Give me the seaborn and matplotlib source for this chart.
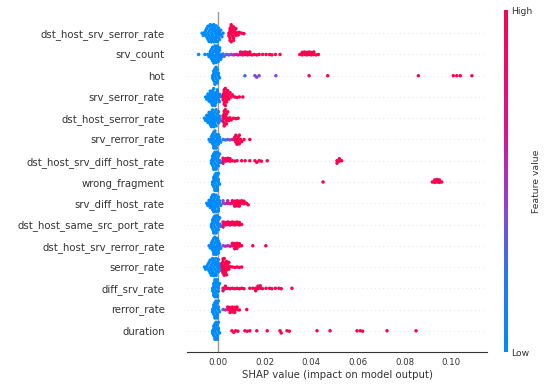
# SHAP summary (beeswarm) plot recreated with seaborn
import warnings
import numpy as np
import pandas as pd
import matplotlib
matplotlib.use("Agg")
import matplotlib.pyplot as plt
import seaborn as sns
from matplotlib.colors import LinearSegmentedColormap, Normalize
from matplotlib.cm import ScalarMappable

warnings.filterwarnings("ignore")

# ==========================================
# DATA  (shap value, number of points, feature value 0..1)
# ==========================================

features = [
    "dst_host_srv_serror_rate", "srv_count", "hot", "srv_serror_rate",
    "dst_host_serror_rate", "srv_rerror_rate", "dst_host_srv_diff_host_rate",
    "wrong_fragment", "srv_diff_host_rate", "dst_host_same_src_port_rate",
    "dst_host_srv_rerror_rate", "serror_rate", "diff_srv_rate",
    "rerror_rate", "duration",
]

dst_host_srv_serror_rate = [
    (-0.007, 1, 0.0), (-0.0065, 1, 0.0), (-0.006, 1, 0.0), (-0.0055, 2, 0.0),
    (-0.005, 2, 0.0), (-0.0045, 3, 0.0), (-0.004, 3, 0.0), (-0.0035, 4, 0.0),
    (-0.003, 4, 0.0), (-0.0025, 4, 0.0), (-0.002, 4, 0.0), (-0.0015, 4, 0.0),
    (-0.001, 4, 0.0), (-0.0005, 3, 0.0), (0.000, 3, 0.05), (0.0005, 2, 0.05),
    (0.001, 2, 0.05), (0.0015, 1, 0.1), (0.002, 1, 0.1),
    (0.0045, 2, 1.0), (0.005, 4, 1.0), (0.0055, 4, 1.0), (0.006, 3, 1.0),
    (0.0065, 3, 1.0), (0.007, 2, 1.0), (0.0075, 2, 1.0), (0.008, 1, 1.0),
    (0.0085, 1, 1.0), (0.009, 1, 1.0), (0.010, 1, 1.0), (0.011, 1, 1.0),
]
srv_count = [
    (-0.0085, 1, 0.0), (-0.0058, 1, 0.0), (-0.0045, 1, 0.0), (-0.004, 1, 0.0),
    (-0.0035, 2, 0.0), (-0.003, 3, 0.0), (-0.0025, 3, 0.0), (-0.002, 4, 0.0),
    (-0.0015, 4, 0.0), (-0.001, 4, 0.0), (-0.0005, 4, 0.0), (0.000, 3, 0.0),
    (0.0005, 3, 0.05), (0.001, 2, 0.05), (0.0015, 1, 0.1), (0.002, 1, 0.1),
    (0.0025, 1, 0.3), (0.0035, 1, 0.35), (0.0045, 1, 0.4), (0.0055, 1, 0.45),
    (0.0065, 1, 0.55), (0.0075, 1, 0.6), (0.0085, 1, 0.7),
    (0.0095, 2, 0.85), (0.0105, 2, 0.9), (0.0115, 2, 0.95), (0.0125, 2, 1.0),
    (0.0135, 2, 1.0), (0.0145, 1, 1.0), (0.0155, 1, 1.0), (0.0165, 1, 1.0),
    (0.0175, 1, 1.0), (0.019, 1, 1.0), (0.0205, 1, 1.0), (0.022, 1, 1.0),
    (0.023, 1, 1.0), (0.0245, 1, 1.0), (0.0265, 1, 1.0),
    (0.035, 1, 1.0), (0.036, 2, 1.0), (0.037, 2, 1.0), (0.038, 2, 1.0),
    (0.039, 2, 1.0), (0.040, 2, 1.0), (0.041, 2, 1.0), (0.042, 1, 1.0),
    (0.043, 1, 1.0),
]
hot = [
    (-0.0025, 2, 0.0), (-0.002, 3, 0.0), (-0.0015, 4, 0.0), (-0.001, 4, 0.0),
    (-0.0005, 3, 0.0), (0.000, 2, 0.0), (0.0005, 1, 0.0),
    (0.0114, 1, 0.25), (0.0157, 1, 0.4), (0.0165, 1, 0.4), (0.0175, 1, 0.4),
    (0.0247, 1, 0.45), (0.039, 1, 0.9), (0.047, 1, 0.95), (0.086, 1, 1.0),
    (0.101, 1, 1.0), (0.1025, 1, 1.0), (0.104, 1, 1.0), (0.109, 1, 1.0),
]
srv_serror_rate = [
    (-0.0055, 1, 0.0), (-0.005, 1, 0.0), (-0.0045, 2, 0.0), (-0.004, 2, 0.0),
    (-0.0035, 3, 0.0), (-0.003, 3, 0.0), (-0.0025, 4, 0.0), (-0.002, 4, 0.0),
    (-0.0015, 4, 0.0), (-0.001, 3, 0.0), (-0.0005, 3, 0.0), (0.000, 2, 0.05),
    (0.0005, 2, 0.05), (0.001, 1, 0.1),
    (0.002, 3, 1.0), (0.0025, 4, 1.0), (0.003, 4, 1.0), (0.0035, 3, 1.0),
    (0.004, 2, 1.0), (0.0045, 2, 1.0), (0.005, 1, 1.0), (0.0055, 1, 1.0),
    (0.006, 1, 1.0), (0.007, 1, 1.0), (0.008, 1, 1.0), (0.009, 1, 1.0),
    (0.0105, 1, 1.0),
]
dst_host_serror_rate = [
    (-0.006, 1, 0.0), (-0.0055, 1, 0.0), (-0.005, 2, 0.0), (-0.0045, 2, 0.0),
    (-0.004, 3, 0.0), (-0.0035, 3, 0.0), (-0.003, 4, 0.0), (-0.0025, 4, 0.0),
    (-0.002, 4, 0.0), (-0.0015, 4, 0.0), (-0.001, 3, 0.0), (-0.0005, 3, 0.0),
    (0.000, 2, 0.05), (0.0005, 2, 0.05), (0.001, 1, 0.1),
    (0.002, 3, 1.0), (0.0025, 4, 1.0), (0.003, 3, 1.0), (0.0035, 3, 1.0),
    (0.004, 2, 1.0), (0.0045, 1, 1.0), (0.005, 1, 1.0), (0.0055, 1, 1.0),
    (0.0065, 1, 1.0), (0.0075, 1, 1.0), (0.0085, 1, 1.0),
]
srv_rerror_rate = [
    (-0.004, 1, 0.0), (-0.0035, 1, 0.0), (-0.003, 2, 0.0), (-0.0025, 3, 0.0),
    (-0.002, 4, 0.0), (-0.0015, 4, 0.0), (-0.001, 4, 0.0), (-0.0005, 3, 0.0),
    (0.000, 2, 0.0), (0.0005, 2, 0.05), (0.001, 1, 0.05),
    (0.002, 1, 0.2), (0.003, 1, 0.25), (0.004, 1, 0.3), (0.005, 1, 0.4),
    (0.006, 1, 0.6),
    (0.007, 2, 0.9), (0.0075, 2, 1.0), (0.008, 2, 1.0), (0.0085, 2, 1.0),
    (0.009, 2, 1.0), (0.0095, 1, 1.0), (0.010, 1, 1.0), (0.011, 1, 1.0),
    (0.0135, 1, 1.0),
]
dst_host_srv_diff_host_rate = [
    (-0.003, 2, 0.0), (-0.0025, 3, 0.0), (-0.002, 4, 0.0), (-0.0015, 4, 0.0),
    (-0.001, 4, 0.0), (-0.0005, 4, 0.0), (0.000, 3, 0.0), (0.0005, 2, 0.05),
    (0.001, 1, 0.05),
    (0.002, 3, 0.85), (0.003, 2, 0.9), (0.004, 2, 1.0), (0.005, 2, 1.0),
    (0.006, 1, 1.0), (0.007, 1, 1.0), (0.008, 1, 1.0),
    (0.010, 1, 1.0), (0.0115, 1, 1.0), (0.0135, 1, 1.0), (0.0157, 1, 1.0),
    (0.0165, 1, 1.0), (0.0175, 1, 1.0), (0.0185, 1, 1.0), (0.021, 1, 1.0),
    (0.051, 2, 1.0), (0.052, 2, 1.0), (0.053, 1, 1.0),
]
wrong_fragment = [
    (-0.0025, 2, 0.0), (-0.002, 3, 0.0), (-0.0015, 4, 0.0), (-0.001, 4, 0.0),
    (-0.0005, 4, 0.0), (0.000, 3, 0.0), (0.0005, 1, 0.0),
    (0.045, 1, 1.0),
    (0.092, 1, 1.0), (0.093, 2, 1.0), (0.094, 2, 1.0), (0.095, 2, 1.0),
    (0.096, 1, 1.0),
]
srv_diff_host_rate = [
    (-0.005, 1, 0.0), (-0.0045, 1, 0.0), (-0.004, 2, 0.0), (-0.0035, 2, 0.0),
    (-0.003, 3, 0.0), (-0.0025, 4, 0.0), (-0.002, 4, 0.0), (-0.0015, 4, 0.0),
    (-0.001, 4, 0.0), (-0.0005, 3, 0.0), (0.000, 3, 0.0), (0.0005, 2, 0.05),
    (0.001, 1, 0.05),
    (0.002, 2, 0.4), (0.003, 1, 0.5), (0.004, 2, 0.6), (0.005, 1, 0.7),
    (0.006, 2, 0.9), (0.007, 3, 1.0), (0.008, 3, 1.0), (0.009, 3, 1.0),
    (0.010, 2, 1.0), (0.011, 2, 1.0), (0.012, 1, 1.0), (0.0128, 1, 1.0),
]
dst_host_same_src_port_rate = [
    (-0.003, 2, 0.0), (-0.0025, 3, 0.0), (-0.002, 4, 0.0), (-0.0015, 4, 0.0),
    (-0.001, 4, 0.0), (-0.0005, 4, 0.0), (0.000, 3, 0.0), (0.0005, 2, 0.05),
    (0.001, 1, 0.05),
    (0.002, 3, 0.8), (0.003, 2, 0.9), (0.004, 2, 1.0), (0.005, 2, 1.0),
    (0.006, 2, 1.0), (0.007, 2, 1.0), (0.008, 2, 1.0), (0.009, 2, 1.0),
    (0.010, 1, 1.0),
]
dst_host_srv_rerror_rate = [
    (-0.004, 1, 0.0), (-0.0035, 1, 0.0), (-0.003, 2, 0.0), (-0.0025, 3, 0.0),
    (-0.002, 4, 0.0), (-0.0015, 4, 0.0), (-0.001, 4, 0.0), (-0.0005, 4, 0.0),
    (0.000, 3, 0.0), (0.0005, 2, 0.05), (0.001, 1, 0.05),
    (0.002, 1, 0.4), (0.003, 1, 0.5), (0.004, 1, 0.55), (0.005, 1, 0.6),
    (0.006, 2, 0.9), (0.007, 3, 1.0), (0.008, 3, 1.0), (0.009, 2, 1.0),
    (0.010, 1, 1.0), (0.0148, 1, 1.0), (0.0204, 1, 1.0),
]
serror_rate = [
    (-0.006, 1, 0.0), (-0.0055, 1, 0.0), (-0.005, 1, 0.0), (-0.0045, 2, 0.0),
    (-0.004, 2, 0.0), (-0.0035, 3, 0.0), (-0.003, 3, 0.0), (-0.0025, 4, 0.0),
    (-0.002, 4, 0.0), (-0.0015, 4, 0.0), (-0.001, 4, 0.0), (-0.0005, 3, 0.0),
    (0.000, 3, 0.0), (0.0005, 2, 0.05), (0.001, 1, 0.05),
    (0.0015, 3, 1.0), (0.002, 4, 1.0), (0.0025, 4, 1.0), (0.003, 3, 1.0),
    (0.0035, 3, 1.0), (0.004, 2, 1.0), (0.0045, 2, 1.0), (0.005, 1, 1.0),
    (0.006, 1, 1.0), (0.007, 1, 1.0), (0.008, 1, 1.0), (0.009, 1, 1.0),
    (0.010, 1, 1.0),
]
diff_srv_rate = [
    (-0.0025, 2, 0.0), (-0.002, 4, 0.0), (-0.0015, 4, 0.0), (-0.001, 4, 0.0),
    (-0.0005, 4, 0.0), (0.000, 3, 0.0), (0.0005, 1, 0.0),
    (0.002, 2, 0.8), (0.003, 2, 0.9), (0.004, 1, 1.0), (0.005, 1, 1.0),
    (0.006, 1, 1.0), (0.007, 1, 1.0), (0.008, 1, 1.0), (0.009, 1, 1.0),
    (0.010, 1, 1.0), (0.011, 1, 1.0), (0.0135, 1, 1.0), (0.0148, 1, 1.0),
    (0.016, 2, 1.0), (0.017, 2, 1.0), (0.018, 2, 1.0), (0.019, 1, 1.0),
    (0.0205, 1, 1.0), (0.022, 1, 1.0), (0.023, 1, 1.0), (0.0245, 1, 1.0),
    (0.026, 1, 1.0), (0.027, 1, 1.0), (0.0316, 1, 1.0),
]
rerror_rate = [
    (-0.0025, 2, 0.0), (-0.002, 3, 0.0), (-0.0015, 4, 0.0), (-0.001, 4, 0.0),
    (-0.0005, 4, 0.0), (0.000, 3, 0.0), (0.0005, 1, 0.0),
    (0.002, 1, 0.3), (0.003, 1, 0.5),
    (0.004, 2, 0.9), (0.005, 3, 1.0), (0.006, 3, 1.0), (0.007, 3, 1.0),
    (0.008, 2, 1.0), (0.009, 1, 1.0), (0.0122, 1, 1.0),
]
duration = [
    (-0.0025, 2, 0.0), (-0.002, 3, 0.0), (-0.0015, 4, 0.0), (-0.001, 4, 0.0),
    (-0.0005, 4, 0.0), (0.000, 3, 0.0), (0.0005, 1, 0.0),
    (0.0058, 1, 1.0), (0.0066, 1, 1.0), (0.0074, 1, 1.0), (0.0084, 1, 1.0),
    (0.0114, 1, 1.0), (0.0124, 1, 1.0), (0.0135, 1, 1.0), (0.0165, 1, 1.0),
    (0.021, 1, 1.0), (0.0265, 1, 1.0), (0.027, 1, 1.0), (0.0295, 1, 1.0),
    (0.0305, 1, 1.0), (0.0424, 1, 1.0), (0.048, 1, 1.0), (0.0596, 1, 1.0),
    (0.061, 1, 1.0), (0.062, 1, 1.0), (0.0725, 1, 1.0), (0.085, 1, 1.0),
]

series = [
    dst_host_srv_serror_rate, srv_count, hot, srv_serror_rate,
    dst_host_serror_rate, srv_rerror_rate, dst_host_srv_diff_host_rate,
    wrong_fragment, srv_diff_host_rate, dst_host_same_src_port_rate,
    dst_host_srv_rerror_rate, serror_rate, diff_srv_rate,
    rerror_rate, duration,
]

xticks = [0.00, 0.02, 0.04, 0.06, 0.08, 0.10]

# ==========================================
# BUILD TABLE
# ==========================================

rows = []
for name, pts in zip(features, series):
    for val, n, fv in pts:
        for _ in range(n):
            rows.append({"feature": name, "shap": val, "fval": fv})
df = pd.DataFrame(rows)

# SHAP-like red/blue colormap
cmap = LinearSegmentedColormap.from_list(
    "shap_red_blue",
    [(0.0, (0.0, 0.545, 0.984)),
     (0.22, (0.15, 0.47, 0.95)),
     (0.42, (0.55, 0.27, 0.84)),
     (0.65, (0.86, 0.07, 0.55)),
     (1.0, (1.0, 0.0, 0.318))]
)

# ==========================================
# PLOT
# ==========================================

sns.set_theme(style="white")
plt.rcParams["font.family"] = ["DejaVu Sans"]
txt = "#333333"

fig = plt.figure(figsize=(5.5, 3.86), dpi=100)
ax = fig.add_axes([0.340, 0.088, 0.5455, 0.881])

for i in range(len(features)):
    ax.axhline(i, color="#cccccc", lw=0.5, dashes=(1, 5), zorder=-1)
ax.axvline(0, color="#999999", lw=1, zorder=-1)

# swarm layout with small markers, then draw slightly larger so they overlap
sns.swarmplot(
    data=df, x="shap", y="feature", hue="fval", order=features,
    palette=cmap, hue_norm=(0, 1), size=1.7, legend=False, ax=ax
)

ax.set_xlim(-0.0135, 0.1155)
ax.set_ylim(15, -1)

fig.canvas.draw()
for coll in ax.collections:
    if "draw" in coll.__dict__:
        del coll.draw
    coll.set_sizes([2.5 ** 2])
    coll.set_linewidth(0)

ax.set_xticks(xticks)
ax.set_xticklabels([f"{t:.2f}" for t in xticks])
ax.set_ylabel("")
ax.set_xlabel("SHAP value (impact on model output)", fontsize=7.3,
              color=txt, labelpad=2)

for s in ["top", "right", "left"]:
    ax.spines[s].set_visible(False)
ax.spines["bottom"].set_color(txt)
ax.spines["bottom"].set_linewidth(0.8)
ax.tick_params(axis="y", length=0, pad=16, labelsize=7.3, labelcolor=txt)
ax.tick_params(axis="x", length=2.5, width=0.6, color=txt, labelsize=6.2,
               labelcolor=txt, pad=2)

# colorbar
cax = fig.add_axes([504 / 550, 0.088, 4 / 550, 0.886])
cb = fig.colorbar(ScalarMappable(norm=Normalize(0, 1), cmap=cmap),
                  cax=cax, ticks=[0, 1])
cb.set_ticklabels(["Low", "High"])
cb.outline.set_visible(False)
cax.tick_params(length=0, labelsize=6.7, labelcolor=txt, pad=2)
cb.set_label("Feature value", size=6.7, color=txt, labelpad=0)

fig.savefig("out.png", dpi=100)
